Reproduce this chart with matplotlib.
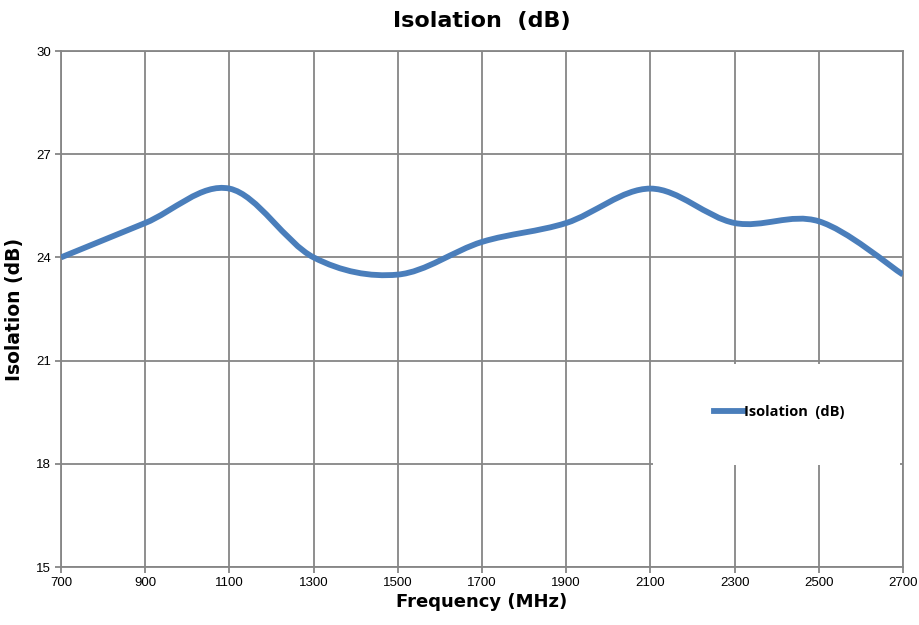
import matplotlib
matplotlib.use("Agg")
import matplotlib.pyplot as plt
from matplotlib.path import Path
from matplotlib.patches import PathPatch, Rectangle
from matplotlib.lines import Line2D

freq_mhz = [700, 900, 1100, 1300, 1500, 1700, 1900, 2100, 2300, 2500, 2700]
isolation_db = [24.0, 25.0, 26.0, 24.0, 23.5, 24.45, 25.0, 26.0, 25.0, 25.05, 23.5]
x_ticks = list(range(700, 2701, 200))
y_ticks = [15, 18, 21, 24, 27, 30]

LINE_BLUE = "#4A7EBB"
GRID_GREY = "#868686"


def smooth_path(xs, ys):
    # Excel-style smoothed line: cubic Bezier through every point
    n = len(xs)
    verts = [(xs[0], ys[0])]
    codes = [Path.MOVETO]
    for i in range(n - 1):
        p0 = max(i - 1, 0)
        p3 = min(i + 2, n - 1)
        c1 = (xs[i] + (xs[i + 1] - xs[p0]) / 6, ys[i] + (ys[i + 1] - ys[p0]) / 6)
        c2 = (xs[i + 1] - (xs[p3] - xs[i]) / 6, ys[i + 1] - (ys[p3] - ys[i]) / 6)
        verts += [c1, c2, (xs[i + 1], ys[i + 1])]
        codes += [Path.CURVE4] * 3
    return Path(verts, codes)


fig = plt.figure(figsize=(9.2, 6.25), dpi=100)
ax = fig.add_axes([61 / 920, 1 - 567 / 625, 842 / 920, 516 / 625])

ax.set_xlim(700, 2700)
ax.set_ylim(15, 30)
ax.set_xticks(x_ticks)
ax.set_yticks(y_ticks)
ax.grid(True, color=GRID_GREY, linewidth=1.3)
ax.set_axisbelow(True)
for s in ax.spines.values():
    s.set_color(GRID_GREY)
    s.set_linewidth(1.3)
ax.tick_params(direction="out", length=4, width=1.3, color=GRID_GREY,
               labelsize=9.5, pad=3)
for lab in ax.get_xticklabels() + ax.get_yticklabels():
    lab.set_fontfamily("Liberation Sans")

# white legend panel hiding the grid
ax.add_patch(Rectangle((0.703, 0.198), 0.294, 0.195, transform=ax.transAxes,
                       facecolor="white", edgecolor="none", zorder=1.5))

curve = PathPatch(smooth_path(freq_mhz, isolation_db), facecolor="none",
                  edgecolor=LINE_BLUE, linewidth=4.2, capstyle="butt",
                  joinstyle="round", zorder=3)
ax.add_patch(curve)

handle = Line2D([], [], color=LINE_BLUE, linewidth=4.2)
leg = ax.legend([handle], ["Isolation  (dB)"], loc="center",
                bbox_to_anchor=(0.853, 0.300), frameon=False,
                handlelength=2.0, handletextpad=0.0,
                prop={"family": "Open Sans", "weight": "bold", "size": 10.5})
leg.set_zorder(4)

ax.set_title("Isolation  (dB)", fontsize=16, fontweight="bold", pad=17,
             family="DejaVu Sans")
ax.set_xlabel("Frequency (MHz)", fontsize=13, fontweight="bold", labelpad=3,
              family="DejaVu Sans")
ax.set_ylabel("Isolation (dB)", fontsize=13.5, fontweight="bold", labelpad=9,
              family="DejaVu Sans")

fig.savefig("out.png", dpi=100)
